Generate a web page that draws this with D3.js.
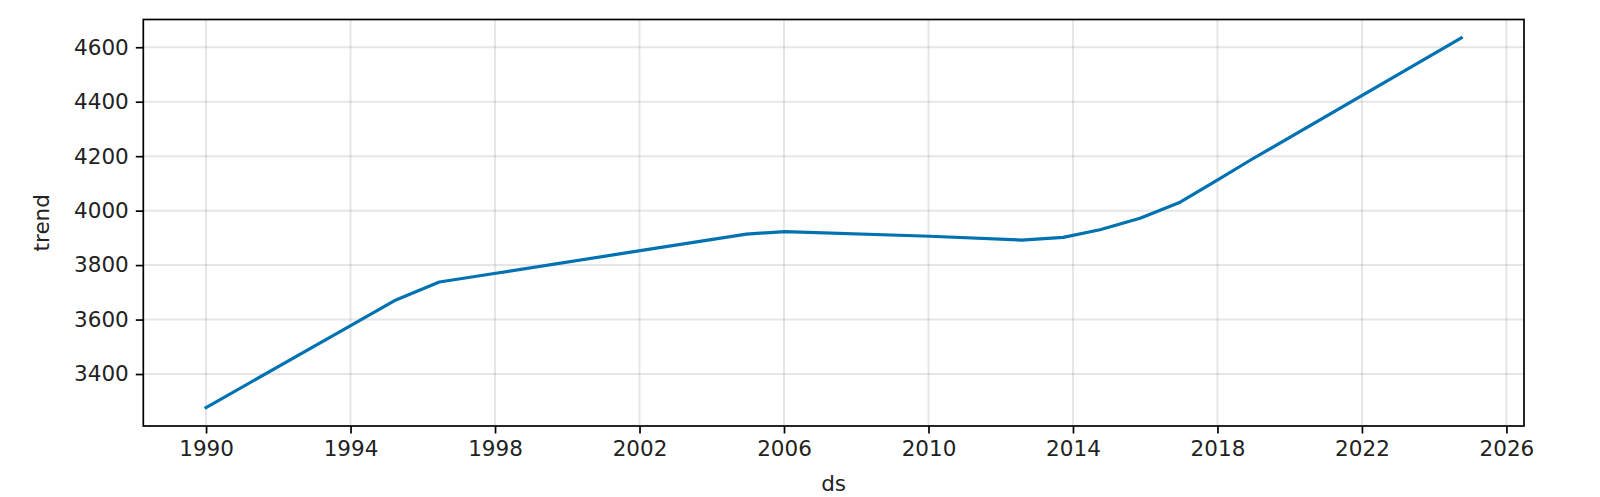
<!DOCTYPE html>
<html>
<head>
<meta charset="utf-8">
<script src="https://cdn.jsdelivr.net/npm/d3@7"></script>
<style>
  html, body { margin: 0; padding: 0; background: #fff; }
  svg { display: block; font-family: "DejaVu Sans", sans-serif; }
</style>
</head>
<body>
<svg id="chart" width="1600" height="497"></svg>
<script>
// ---- data ----
const dates = ["1990-01-01","1993-12-24","1995-04-05","1996-06-17","1997-12-24",
  "2002-01-08","2004-12-17","2006-01-08","2010-01-15","2012-07-30","2013-09-24",
  "2014-10-01","2015-11-10","2016-12-20","2018-01-12","2018-11-28","2024-10-01"];
const trend = [3277, 3576, 3672, 3738, 3769, 3853, 3914, 3923, 3906, 3892, 3902,
  3930, 3972, 4031, 4115, 4185, 4634];
const xTickYears = [1990, 1994, 1998, 2002, 2006, 2010, 2014, 2018, 2022, 2026];
const yTicks = [3400, 3600, 3800, 4000, 4200, 4400, 4600];
const xLabel = "ds";
const yLabel = "trend";

// ---- layout ----
const W = 1600, H = 497;
const M = { left: 143.3, top: 19.5, right: 1524, bottom: 426 };
const FS = 21.5;

const parse = d3.timeParse("%Y-%m-%d");
const data = dates.map((d, i) => ({ ds: parse(d), y: trend[i] }));

// matplotlib-like 5% margins
const xExt = d3.extent(data, d => +d.ds);
const xPad = (xExt[1] - xExt[0]) * 0.05;
const yExt = d3.extent(data, d => d.y);
const yPad = (yExt[1] - yExt[0]) * 0.05;

const x = d3.scaleTime()
  .domain([new Date(xExt[0] - xPad), new Date(xExt[1] + xPad)])
  .range([M.left, M.right]);
const y = d3.scaleLinear()
  .domain([yExt[0] - yPad, yExt[1] + yPad])
  .range([M.bottom, M.top]);

const svg = d3.select("#chart");
svg.append("rect").attr("width", W).attr("height", H).attr("fill", "#fff");

const xTickDates = xTickYears.map(yr => new Date(yr, 0, 1));

// grid
const grid = svg.append("g");
grid.selectAll("line.gx").data(xTickDates).enter().append("line")
  .attr("x1", d => x(d)).attr("x2", d => x(d))
  .attr("y1", M.top).attr("y2", M.bottom)
  .attr("stroke", "gray").attr("stroke-opacity", 0.2).attr("stroke-width", 2);
grid.selectAll("line.gy").data(yTicks).enter().append("line")
  .attr("x1", M.left).attr("x2", M.right)
  .attr("y1", d => y(d)).attr("y2", d => y(d))
  .attr("stroke", "gray").attr("stroke-opacity", 0.2).attr("stroke-width", 2);

// line
const line = d3.line().x(d => x(d.ds)).y(d => y(d.y));
svg.append("path").datum(data)
  .attr("d", line)
  .attr("fill", "none")
  .attr("stroke", "#0072B2")
  .attr("stroke-width", 3.2)
  .attr("stroke-linejoin", "round")
  .attr("stroke-linecap", "square");

// axes
const xAxis = d3.axisBottom(x).tickValues(xTickDates)
  .tickFormat(d3.timeFormat("%Y")).tickSize(7.5).tickPadding(7);
const yAxis = d3.axisLeft(y).tickValues(yTicks)
  .tickFormat(d3.format("d")).tickSize(7.5).tickPadding(7);

const gx = svg.append("g").attr("transform", `translate(0,${M.bottom})`).call(xAxis);
const gy = svg.append("g").attr("transform", `translate(${M.left},0)`).call(yAxis);
[gx, gy].forEach(g => {
  g.select(".domain").remove();
  g.selectAll(".tick line").attr("stroke", "#000").attr("stroke-width", 1.7);
  g.selectAll(".tick text").attr("fill", "#222").style("font-size", FS + "px")
    .style("font-family", "DejaVu Sans, sans-serif");
});

// frame (spines)
svg.append("rect")
  .attr("x", M.left).attr("y", M.top)
  .attr("width", M.right - M.left).attr("height", M.bottom - M.top)
  .attr("fill", "none").attr("stroke", "#000").attr("stroke-width", 1.7);

// axis labels
svg.append("text")
  .attr("x", (M.left + M.right) / 2).attr("y", 491)
  .attr("text-anchor", "middle").attr("fill", "#222")
  .style("font-size", FS + "px").text(xLabel);
svg.append("text")
  .attr("transform", `translate(49,${(M.top + M.bottom) / 2}) rotate(-90)`)
  .attr("text-anchor", "middle").attr("fill", "#222")
  .style("font-size", FS + "px").text(yLabel);
</script>
</body>
</html>
